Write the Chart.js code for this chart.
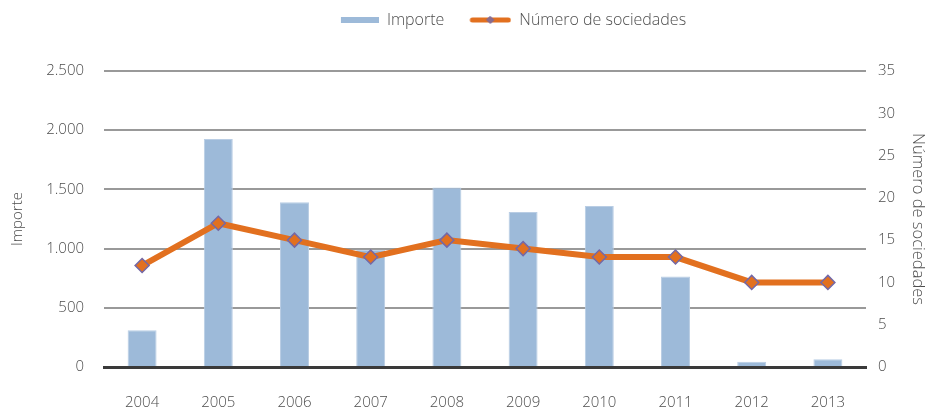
<!DOCTYPE html>
<html>
<head>
<meta charset="utf-8">
<script src="https://cdn.jsdelivr.net/npm/chart.js@4.4.1/dist/chart.umd.min.js"></script>
<style>
html,body{margin:0;padding:0;background:#fff;}
#wrap{width:933px;height:410px;position:relative;}
</style>
</head>
<body>
<div id="wrap"><canvas id="c"></canvas></div>
<script>
const years = ['2004','2005','2006','2007','2008','2009','2010','2011','2012','2013'];
const importe = [310, 1925, 1392, 990, 1515, 1310, 1360, 765, 45, 65];
const sociedades = [12, 17, 15, 13, 15, 14, 13, 13, 10, 10];
const leftTicks = [0, 500, 1000, 1500, 2000, 2500];
const rightTicks = [0, 5, 10, 15, 20, 25, 30, 35];

const BAR = '#9dbad9';
const ORANGE = '#e2701f';
const MARK_BORDER = '#7468a6';
const TXT = '#4d4d4d';
const FONT = "'Open Sans', 'Noto Sans', sans-serif";
const LEG_W = 55;

function legendBox(kind){
  const cv = document.createElement('canvas');
  cv.width = LEG_W; cv.height = 12;
  const g = cv.getContext('2d');
  if (kind === 'bar') {
    g.fillStyle = BAR;
    g.fillRect(LEG_W - 38, 3, 38, 6);
  } else if (kind === 'line') {
    const x0 = LEG_W - 42;
    g.strokeStyle = ORANGE; g.lineWidth = 5; g.lineCap = 'round';
    g.beginPath(); g.moveTo(x0 + 3, 6); g.lineTo(x0 + 39, 6); g.stroke();
    const cx = x0 + 21;
    g.fillStyle = '#8a6c8c'; g.strokeStyle = MARK_BORDER; g.lineWidth = 1;
    g.beginPath(); g.moveTo(cx, 2.5); g.lineTo(cx + 3.5, 6); g.lineTo(cx, 9.5); g.lineTo(cx - 3.5, 6); g.closePath();
    g.fill(); g.stroke();
  }
  return cv;
}

const legendHeight = {
  id: 'legendHeight',
  beforeInit(chart) {
    const orig = chart.legend.fit;
    chart.legend.fit = function() { orig.call(this); this.height = 71; };
  }
};

Chart.defaults.font.family = FONT;
Chart.defaults.font.weight = '300';
Chart.defaults.color = TXT;

new Chart(document.getElementById('c'), {
  data: {
    labels: years,
    datasets: [
      {
        type: 'line',
        label: 'Número de sociedades',
        data: sociedades,
        yAxisID: 'y1',
        borderColor: ORANGE,
        borderWidth: 6,
        tension: 0,
        pointStyle: 'rectRot',
        pointRadius: 7,
        pointHoverRadius: 7,
        pointBackgroundColor: ORANGE,
        pointBorderColor: MARK_BORDER,
        pointBorderWidth: 1.5,
        order: 0
      },
      {
        type: 'bar',
        label: 'Importe',
        data: importe,
        yAxisID: 'y',
        backgroundColor: BAR,
        borderColor: '#b9cde4',
        borderWidth: 1,
        categoryPercentage: 0.8,
        barPercentage: 0.475,
        order: 1
      }
    ]
  },
  plugins: [legendHeight],
  options: {
    responsive: true,
    maintainAspectRatio: false,
    animation: false,
    layout: { padding: { left: 6, right: 4, top: 0, bottom: 0 } },
    plugins: {
      tooltip: { enabled: false },
      legend: {
        position: 'top',
        align: 'center',
        labels: {
          usePointStyle: true,
          pointStyleWidth: LEG_W,
          boxHeight: 12,
          padding: 12,
          color: TXT,
          font: { size: 16, family: FONT, weight: '300' },
          generateLabels: function(chart){
            return [
              { text: '', pointStyle: legendBox('none'), fillStyle: 'rgba(0,0,0,0)', strokeStyle: 'rgba(0,0,0,0)', lineWidth: 0, fontColor: 'rgba(0,0,0,0)' },
              { text: 'Importe', pointStyle: legendBox('bar'), fillStyle: BAR, strokeStyle: BAR, lineWidth: 0, datasetIndex: 1, fontColor: TXT },
              { text: 'Número de sociedades', pointStyle: legendBox('line'), fillStyle: ORANGE, strokeStyle: ORANGE, lineWidth: 0, datasetIndex: 0, fontColor: TXT }
            ];
          }
        },
        onClick: () => {}
      }
    },
    scales: {
      x: {
        grid: { display: false, drawTicks: false },
        border: { display: true, color: '#3a3a3a', width: 3 },
        ticks: { padding: 27, color: TXT, font: { size: 15 } },
        afterFit: axis => { axis.height = 43; }
      },
      y: {
        position: 'left',
        min: 0, max: 2500,
        afterBuildTicks: function(axis){ axis.ticks = leftTicks.map(v => ({ value: v })); },
        afterFit: axis => { axis.width = 98; },
        grid: {
          drawTicks: false,
          color: ctx => ctx.tick && ctx.tick.value === 0 ? 'rgba(0,0,0,0)' : '#999999',
          lineWidth: 2
        },
        border: { display: false },
        ticks: {
          padding: 20,
          color: TXT,
          font: { size: 15 },
          callback: v => v.toLocaleString('de-DE')
        },
        title: { display: true, text: 'Importe', color: TXT, font: { size: 15 }, padding: { top: 3, bottom: 0 } }
      },
      y1: {
        position: 'right',
        min: 0, max: 35,
        afterBuildTicks: function(axis){ axis.ticks = rightTicks.map(v => ({ value: v })); },
        afterFit: axis => { axis.width = 63; },
        grid: { display: false, drawTicks: false },
        border: { display: false },
        ticks: { padding: 12, color: TXT, font: { size: 15 } },
        title: { display: true, text: 'Número de sociedades', color: TXT, font: { size: 16.5 }, padding: { top: 1, bottom: 0 } }
      }
    }
  }
});
</script>
</body>
</html>
